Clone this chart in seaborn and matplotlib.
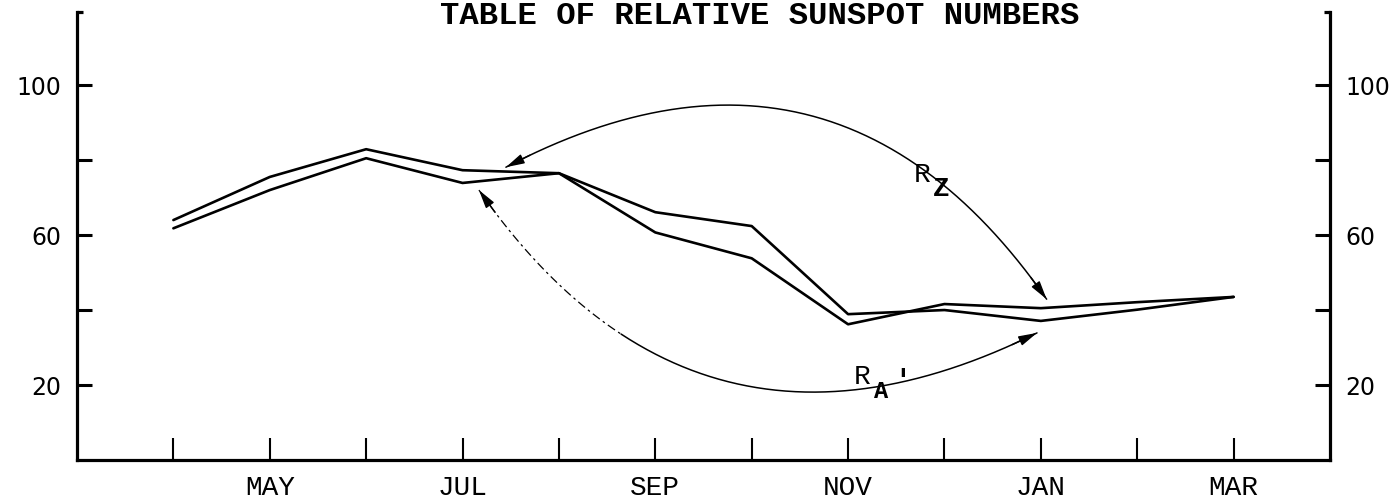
import numpy as np
import pandas as pd
import matplotlib
matplotlib.use("Agg")
import matplotlib.pyplot as plt
import seaborn as sns

# ---- data ----
months = ["APR", "MAY", "JUN", "JUL", "AUG", "SEP", "OCT", "NOV", "DEC", "JAN", "FEB", "MAR"]
month_labels = ["", "MAY", "", "JUL", "", "SEP", "", "NOV", "", "JAN", "", "MAR"]
series_z = [64.0, 75.5, 82.9, 77.3, 76.5, 66.1, 62.4, 38.9, 40.0, 37.1, 40.1, 43.5]
series_a = [61.8, 72.0, 80.5, 73.9, 76.5, 60.7, 53.8, 36.2, 41.6, 40.5, 42.1, 43.5]
y_ticks = [20, 40, 60, 80, 100]
y_ticklabels = ["20", "", "60", "", "100"]
title = "TABLE OF RELATIVE SUNSPOT NUMBERS"

sns.set_theme(style="ticks")
plt.rcParams["font.family"] = ["DejaVu Sans"]
plt.rcParams["text.color"] = "black"

df = pd.DataFrame({
    "month": list(range(len(months))) * 2,
    "value": series_z + series_a,
    "series": ["Rz"] * len(months) + ["RA"] * len(months),
})

fig = plt.figure(figsize=(13.98, 5.01), dpi=100)
ax = fig.add_axes([77 / 1398, 1 - 460 / 501, (1330 - 77) / 1398, (460 - 12) / 501])

sns.lineplot(data=df, x="month", y="value", hue="series",
             palette={"Rz": "black", "RA": "black"}, linewidth=1.9,
             legend=False, ax=ax, sort=False)

ax.set_xlim(-1, 12)
ax.set_ylim(0, 119.5)
ax.set_xlabel("")
ax.set_ylabel("")

# spines
for s in ["left", "right", "bottom"]:
    ax.spines[s].set_linewidth(2.3)
    ax.spines[s].set_color("black")
ax.spines["top"].set_visible(False)

# small hooks at the top of the side spines
ax.plot([0, 0.005], [1, 1], color="black", lw=2.3, transform=ax.transAxes, clip_on=False,
        solid_capstyle="butt")
ax.plot([0.995, 1], [1, 1], color="black", lw=2.3, transform=ax.transAxes, clip_on=False,
        solid_capstyle="butt")

mono = ["Liberation Mono", "DejaVu Sans Mono"]

# x ticks
ax.set_xticks(range(len(months)))
ax.set_xticklabels(month_labels, family=mono, fontsize=20)
ax.tick_params(axis="x", direction="in", length=16, width=1.5, pad=11, colors="black")

# y ticks
ax.set_yticks(y_ticks)
ax.set_yticklabels(y_ticklabels, fontsize=17)
ax.tick_params(axis="y", which="both", direction="in", length=11, width=2.2,
               left=True, right=True, labelleft=True, labelright=True, colors="black")
ax.tick_params(axis="y", which="major", pad=11)

fig.text(440 / 1398, 1 - 1 / 501, title, ha="left", va="top", color="black",
         family=mono, fontweight="bold", fontsize=23.2)


# ---- curved double-headed arrows ----
def arc_points(p0, p1, rad, n=300):
    T = ax.transData
    a = T.transform(p0)
    b = T.transform(p1)
    mid = (a + b) / 2
    d = b - a
    c = mid + rad * np.array([d[1], -d[0]])
    t = np.linspace(0, 1, n)[:, None]
    pts = (1 - t) ** 2 * a + 2 * t * (1 - t) * c + t ** 2 * b
    return T.inverted().transform(pts)


def head(pts, at_end):
    if at_end:
        tip, back = pts[-1], pts[-12]
    else:
        tip, back = pts[0], pts[11]
    ax.annotate("", xy=tip, xytext=back,
                arrowprops=dict(arrowstyle="-|>,head_length=0.75,head_width=0.2",
                                mutation_scale=15, color="black", lw=1.0,
                                shrinkA=0, shrinkB=0))


# R_Z arc: from JAN end to JUL end (bulging upward)
rz = arc_points((9.06, 42.9), (3.45, 78.1), 0.44)
ax.plot(rz[:, 0], rz[:, 1], color="black", lw=1.1)
head(rz, True)
head(rz, False)

# R_A' arc: from JUL end to JAN end (bulging downward)
ra = arc_points((3.17, 72.0), (8.96, 33.9), 0.43)
k = int(0.3 * len(ra))
ax.plot(ra[:k + 1, 0], ra[:k + 1, 1], color="black", lw=0.9, linestyle=(0, (7, 3, 2, 3)))
ax.plot(ra[k:, 0], ra[k:, 1], color="black", lw=1.1)
head(ra, True)
head(ra, False)

ax.text(7.77, 76.0, "R", family=mono, fontsize=20, ha="center", va="center", color="black")
ax.text(7.97, 72.3, "Z", family=mono, fontsize=20, fontweight="bold", ha="center", va="center",
        color="black")
ax.text(7.14, 22.2, "R", family=mono, fontsize=20, ha="center", va="center", color="black")
ax.text(7.34, 18.2, "A", family=mono, fontsize=17, fontweight="bold", ha="center", va="center",
        color="black")
ax.text(7.57, 21.0, "'", family=mono, fontsize=20, fontweight="bold", ha="center", va="center",
        color="black")

fig.savefig("out.png", dpi=100, facecolor="white")
